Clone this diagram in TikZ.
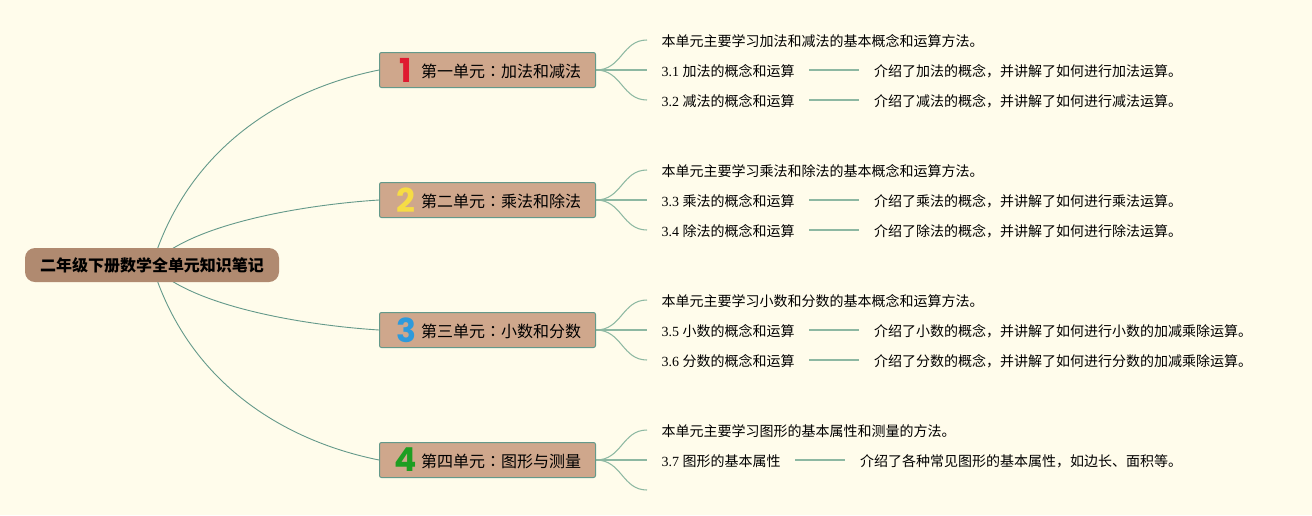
\documentclass[tikz,border=0pt]{standalone}
\usepackage{fontspec}
\setmainfont{Liberation Serif}
\newfontfamily\cjk{Noto Sans CJK SC}
\newfontfamily\cjkcol{Noto Sans CJK TC}
\newfontfamily\digitfont{Poppins}
\usetikzlibrary{calc}
\definecolor{bgc}{HTML}{FFFCEB}
\definecolor{rootc}{HTML}{B08A70}
\definecolor{secc}{HTML}{CFA78C}
\definecolor{edgec}{HTML}{64998A}
\definecolor{leafc}{HTML}{8DB8A2}
\definecolor{ired}{HTML}{DF1A30}
\definecolor{iyellow}{HTML}{F6DC45}
\definecolor{iblue}{HTML}{2F9ADB}
\definecolor{igreen}{HTML}{1E9E22}
\newcommand{\secbox}[4]{%
  \node[secbox] (s#1) at (487.5,#2) {\hspace*{27pt}{\cjk #3}{\cjkcol ：}{\cjk #4}};}
\newcommand{\iconn}[3]{%
  \node[iconnum,text=#3] (i#1) at (406,#2) {#1};}
\newcommand{\leafpair}[5]{% id, y, number, label, description
  \node[leaf] (a#1) at (647,#2) {#3 {\cjk #4}};
  \node[leaf,anchor=west] (b#1) at ($(a#1.east)+(50,0)$) {{\cjk #5}};}
\begin{document}
\pgfdeclarelayer{under}
\pgfsetlayers{under,main}
\begin{tikzpicture}[x=1pt,y=-1pt,
  rootbox/.style={draw=none,fill=rootc,rounded corners=10pt,minimum width=254pt,minimum height=34pt,inner sep=0pt,font=\fontsize{16}{18}\selectfont\cjk\bfseries},
  secbox/.style={draw=edgec,line width=1pt,fill=secc,rounded corners=2pt,minimum width=216pt,minimum height=35pt,inner sep=0pt,text height=15pt,text depth=1pt,font=\fontsize{16}{18}\selectfont},
  iconnum/.style={inner sep=0pt,font=\fontsize{33}{36}\selectfont\digitfont\bfseries},
  leaf/.style={anchor=west,inner xsep=14.5pt,inner ysep=0pt,text height=14pt,text depth=1pt,font=\fontsize{14}{16}\selectfont},
  rootedge/.style={draw=edgec,line width=0.9pt},
  leafedge/.style={draw=leafc,line width=1.05pt}]
\useasboundingbox (0,0) rectangle (1312,515);
\node[rootbox] (root) at (152,265) {二年级下册数学全单元知识笔记};
\secbox{1}{70}{第一单元}{加法和减法}
\secbox{2}{200}{第二单元}{乘法和除法}
\secbox{3}{330}{第三单元}{小数和分数}
\secbox{4}{460}{第四单元}{图形与测量}
\iconn{1}{70}{ired}
\iconn{2}{200}{iyellow}
\iconn{3}{330}{iblue}
\iconn{4}{460}{igreen}
% unit 1
\node[leaf] (t1) at (647,40) {{\cjk 本单元主要学习加法和减法的基本概念和运算方法。}};
\leafpair{31}{70}{3.1}{加法的概念和运算}{介绍了加法的概念，并讲解了如何进行加法运算。}
\leafpair{32}{100}{3.2}{减法的概念和运算}{介绍了减法的概念，并讲解了如何进行减法运算。}
% unit 2
\node[leaf] (t2) at (647,170) {{\cjk 本单元主要学习乘法和除法的基本概念和运算方法。}};
\leafpair{33}{200}{3.3}{乘法的概念和运算}{介绍了乘法的概念，并讲解了如何进行乘法运算。}
\leafpair{34}{230}{3.4}{除法的概念和运算}{介绍了除法的概念，并讲解了如何进行除法运算。}
% unit 3
\node[leaf] (t3) at (647,300) {{\cjk 本单元主要学习小数和分数的基本概念和运算方法。}};
\leafpair{35}{330}{3.5}{小数的概念和运算}{介绍了小数的概念，并讲解了如何进行小数的加减乘除运算。}
\leafpair{36}{360}{3.6}{分数的概念和运算}{介绍了分数的概念，并讲解了如何进行分数的加减乘除运算。}
% unit 4
\node[leaf] (t4) at (647,430) {{\cjk 本单元主要学习图形的基本属性和测量的方法。}};
\leafpair{37}{460}{3.7}{图形的基本属性}{介绍了各种常见图形的基本属性，如边长、面积等。}
\coordinate (e4) at (647,490);
\begin{pgfonlayer}{under}
\fill[bgc] (0,0) rectangle (1312,515);
\path[rootedge] (root.center) .. controls +(35,-115) and +(-99,20) .. (s1.west);
\path[rootedge] (root.center) .. controls +(36,-40) and +(-79,5) .. (s2.west);
\path[rootedge] (root.center) .. controls +(36,40) and +(-79,-5) .. (s3.west);
\path[rootedge] (root.center) .. controls +(35,115) and +(-99,-20) .. (s4.west);
\foreach \s/\e in {1/t1,1/a31,1/a32,2/t2,2/a33,2/a34,3/t3,3/a35,3/a36,4/t4,4/a37,4/e4}
  \path[leafedge] (s\s.east) .. controls +(26,0) and +(-25,0) .. (\e.west);
\foreach \k in {31,32,33,34,35,36,37}
  \path[leafedge] (a\k.east) -- (b\k.west);
\end{pgfonlayer}
\end{tikzpicture}
\end{document}
